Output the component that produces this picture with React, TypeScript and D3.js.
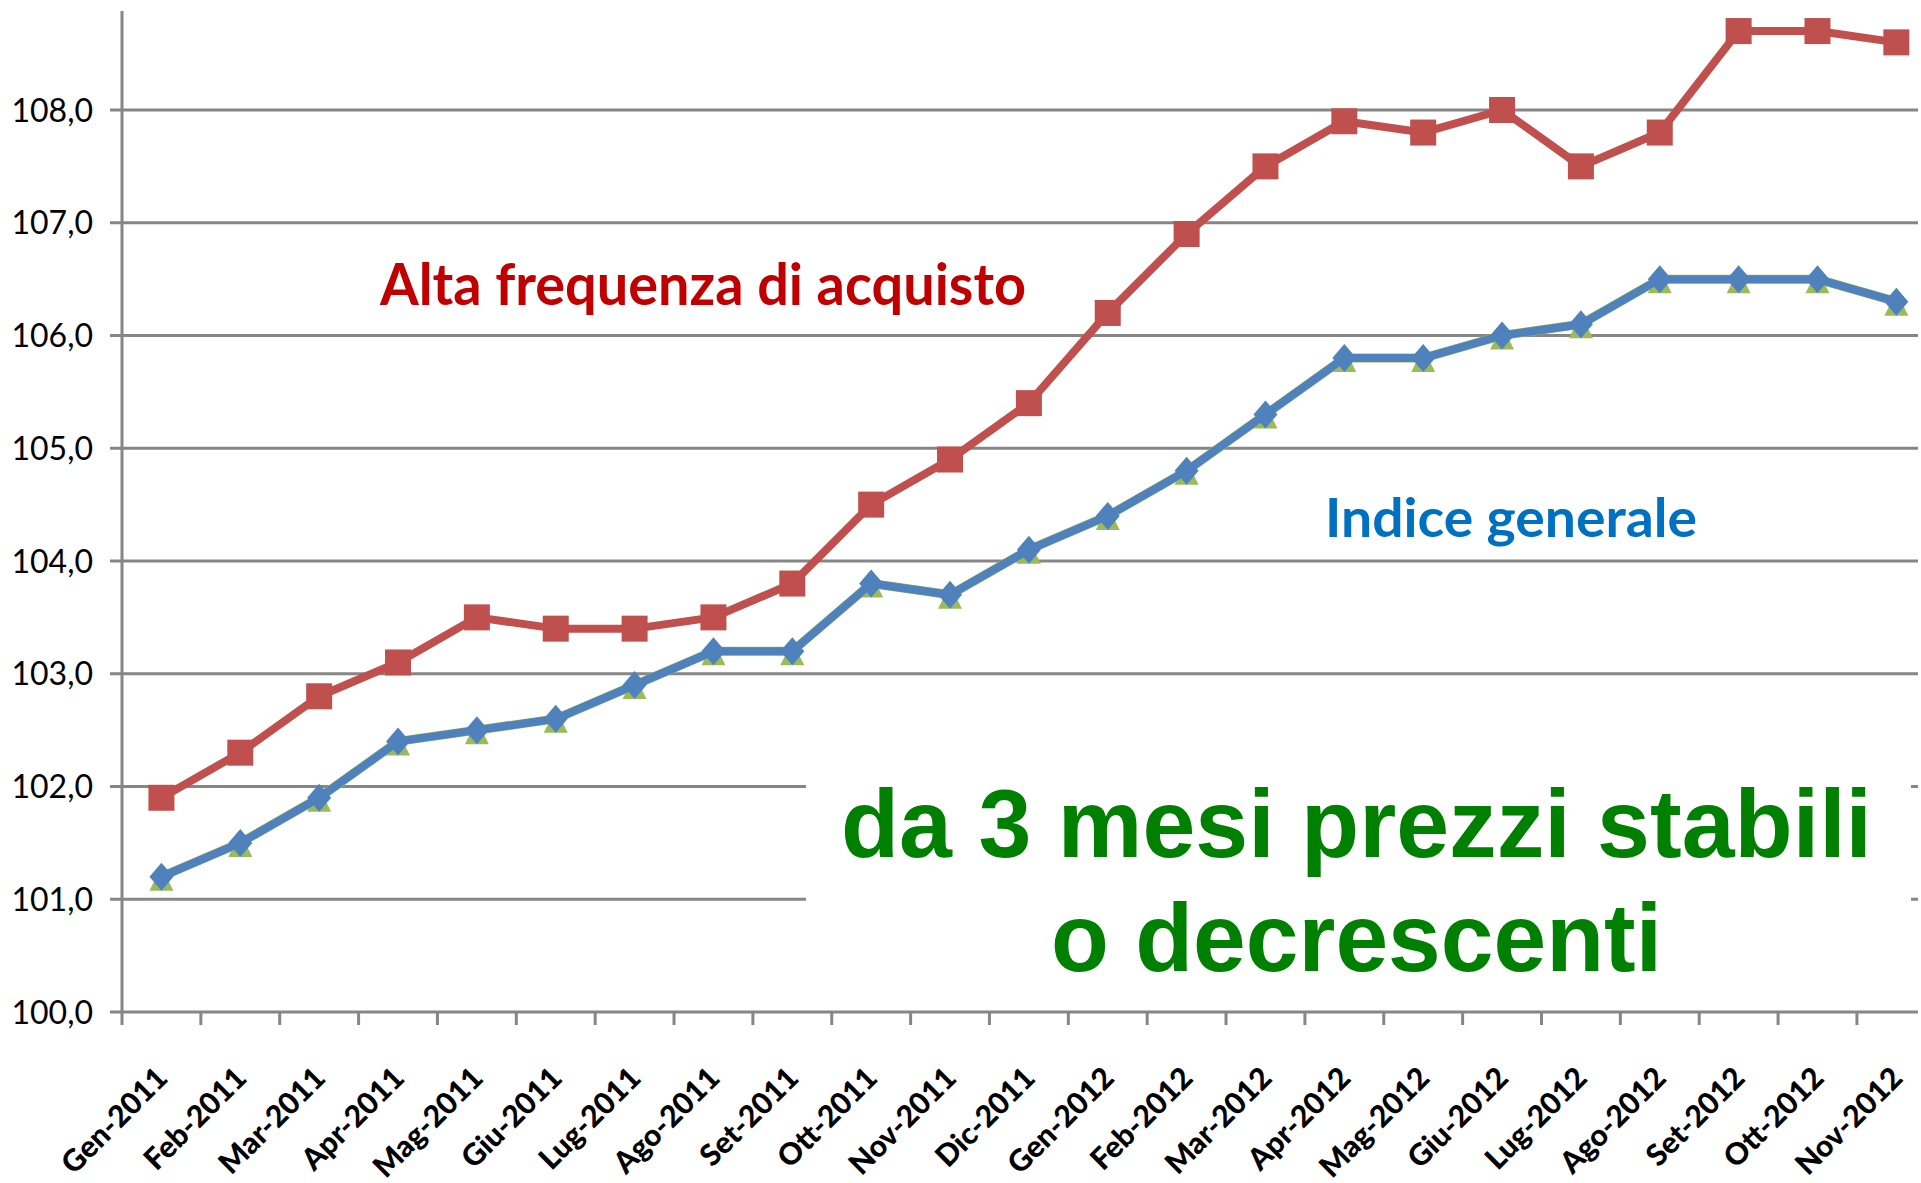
import React, { useEffect, useRef } from 'react';
import * as d3 from 'd3';

// categorie (mesi)
const months = [
  'Gen-2011', 'Feb-2011', 'Mar-2011', 'Apr-2011', 'Mag-2011', 'Giu-2011',
  'Lug-2011', 'Ago-2011', 'Set-2011', 'Ott-2011', 'Nov-2011', 'Dic-2011',
  'Gen-2012', 'Feb-2012', 'Mar-2012', 'Apr-2012', 'Mag-2012', 'Giu-2012',
  'Lug-2012', 'Ago-2012', 'Set-2012', 'Ott-2012', 'Nov-2012'
];

// Alta frequenza di acquisto (rosso)
const altaFrequenza = [
  101.9, 102.3, 102.8, 103.1, 103.5, 103.4, 103.4, 103.5, 103.8, 104.5, 104.9, 105.4,
  106.2, 106.9, 107.5, 107.9, 107.8, 108.0, 107.5, 107.8, 108.7, 108.7, 108.6
];

// Indice generale (blu)
const indiceGenerale = [
  101.2, 101.5, 101.9, 102.4, 102.5, 102.6, 102.9, 103.2, 103.2, 103.8, 103.7, 104.1,
  104.4, 104.8, 105.3, 105.8, 105.8, 106.0, 106.1, 106.5, 106.5, 106.5, 106.3
];

// terza serie (triangoli verdi, quasi nascosta sotto l'indice generale)
const serieVerde = [
  101.2, 101.5, 101.9, 102.4, 102.5, 102.6, 102.9, 103.2, 103.2, 103.8, 103.7, 104.1,
  104.4, 104.8, 105.3, 105.8, 105.8, 106.0, 106.1, 106.5, 106.5, 106.5, 106.3
];

const yTicks = [100, 101, 102, 103, 104, 105, 106, 107, 108];

const App = () => {
  const svgRef = useRef<SVGSVGElement | null>(null);

  useEffect(() => {
    if (!svgRef.current) return;
    const width = 1921;
    const height = 1183;

    const svg = d3.select(svgRef.current);
    svg.selectAll('*').remove();
    svg.attr('width', width).attr('height', height);

    const plotLeft = 122;
    const plotRight = 1918;
    const plotTop = 11;
    const step = 78.86;

    const x = d3.scaleBand<string>()
      .domain(months)
      .range([plotLeft, plotLeft + step * months.length])
      .paddingInner(0)
      .paddingOuter(0);
    const cx = (m: string) => (x(m) as number) + x.bandwidth() / 2;

    const y = d3.scaleLinear().domain([100, 108]).range([1012, 110]);
    const fmt = (v: number) => d3.format('.1f')(v).replace('.', ',');

    const gridColor = '#868686';

    // gridlines
    svg.append('g')
      .selectAll('line')
      .data(yTicks.filter(t => t > 100))
      .enter()
      .append('line')
      .attr('x1', plotLeft - 12)
      .attr('x2', plotRight)
      .attr('y1', d => y(d))
      .attr('y2', d => y(d))
      .style('stroke', gridColor)
      .style('stroke-width', 3);

    // y labels
    svg.append('g')
      .selectAll('text')
      .data(yTicks)
      .enter()
      .append('text')
      .attr('x', 93)
      .attr('y', d => y(d))
      .attr('dy', '0.36em')
      .attr('text-anchor', 'end')
      .style('font-family', 'Lato, sans-serif')
      .style('font-size', '32px')
      .style('fill', '#000')
      .text(d => fmt(d));

    // y axis
    svg.append('line')
      .attr('x1', plotLeft).attr('x2', plotLeft)
      .attr('y1', plotTop).attr('y2', y(100) + 13)
      .style('stroke', gridColor)
      .style('stroke-width', 3);

    // x axis
    svg.append('line')
      .attr('x1', plotLeft - 12).attr('x2', plotRight)
      .attr('y1', y(100)).attr('y2', y(100))
      .style('stroke', gridColor)
      .style('stroke-width', 3);

    svg.append('g')
      .selectAll('line')
      .data(months.slice(1))
      .enter()
      .append('line')
      .attr('x1', d => x(d) as number)
      .attr('x2', d => x(d) as number)
      .attr('y1', y(100))
      .attr('y2', y(100) + 13)
      .style('stroke', gridColor)
      .style('stroke-width', 3);

    // x labels
    svg.append('g')
      .selectAll('text')
      .data(months)
      .enter()
      .append('text')
      .attr('transform', d => `translate(${cx(d) + 8},${1080}) rotate(-45)`)
      .attr('text-anchor', 'end')
      .style('font-family', 'Lato, sans-serif')
      .style('font-weight', '900')
      .style('font-size', '30px')
      .style('fill', '#000')
      .text(d => d);

    // white box behind the green note
    svg.append('rect')
      .attr('x', 806).attr('y', 700)
      .attr('width', 1911 - 806).attr('height', 295)
      .style('fill', '#fff');

    const line = d3.line<number>()
      .x((_, i) => cx(months[i]))
      .y(d => y(d));

    // red series
    svg.append('path')
      .datum(altaFrequenza)
      .attr('d', line)
      .style('fill', 'none')
      .style('stroke', '#C0504D')
      .style('stroke-width', 8)
      .style('stroke-linejoin', 'round');
    svg.append('g')
      .selectAll('rect')
      .data(altaFrequenza)
      .enter()
      .append('rect')
      .attr('x', (_, i) => cx(months[i]) - 13)
      .attr('y', d => y(d) - 13)
      .attr('width', 26)
      .attr('height', 26)
      .style('fill', '#C0504D');

    // green series
    svg.append('path')
      .datum(serieVerde)
      .attr('d', line)
      .style('fill', 'none')
      .style('stroke', '#9BBB59')
      .style('stroke-width', 9)
      .style('stroke-linejoin', 'round');
    svg.append('g')
      .selectAll('path')
      .data(serieVerde)
      .enter()
      .append('path')
      .attr('transform', (d, i) => `translate(${cx(months[i])},${y(d)})`)
      .attr('d', 'M0,-10L12,14L-12,14Z')
      .style('fill', '#9BBB59');

    // blue series
    svg.append('path')
      .datum(indiceGenerale)
      .attr('d', line)
      .style('fill', 'none')
      .style('stroke', '#4F81BD')
      .style('stroke-width', 8)
      .style('stroke-linejoin', 'round');
    svg.append('g')
      .selectAll('path')
      .data(indiceGenerale)
      .enter()
      .append('path')
      .attr('transform', (d, i) => `translate(${cx(months[i])},${y(d)})`)
      .attr('d', 'M0,-14L12,0L0,14L-12,0Z')
      .style('fill', '#4F81BD');

    // series labels
    svg.append('text')
      .attr('x', 380).attr('y', 305)
      .attr('textLength', 646)
      .attr('lengthAdjust', 'spacingAndGlyphs')
      .style('font-family', 'Lato, sans-serif')
      .style('font-weight', 'bold')
      .style('font-size', '58px')
      .style('fill', '#C00000')
      .text('Alta frequenza di acquisto');

    svg.append('text')
      .attr('x', 1325).attr('y', 537)
      .attr('textLength', 372)
      .attr('lengthAdjust', 'spacingAndGlyphs')
      .style('font-family', 'Lato, sans-serif')
      .style('font-weight', 'bold')
      .style('font-size', '54px')
      .style('fill', '#0070C0')
      .text('Indice generale');

    // green note
    const note = svg.append('g')
      .style('font-family', '"Liberation Sans", Arial, sans-serif')
      .style('font-weight', 'bold')
      .style('font-size', '97px')
      .style('fill', '#008000');
    note.append('text')
      .attr('x', 841).attr('y', 857)
      .attr('textLength', 1031)
      .attr('lengthAdjust', 'spacingAndGlyphs')
      .text('da 3 mesi prezzi stabili');
    note.append('text')
      .attr('x', 1051).attr('y', 971)
      .attr('textLength', 611)
      .attr('lengthAdjust', 'spacingAndGlyphs')
      .text('o decrescenti');
  }, []);

  return (
    <div style={{ position: 'absolute', left: 0, top: 0, background: '#fff' }}>
      <svg ref={svgRef} style={{ display: 'block' }}></svg>
    </div>
  );
};

export default App;
